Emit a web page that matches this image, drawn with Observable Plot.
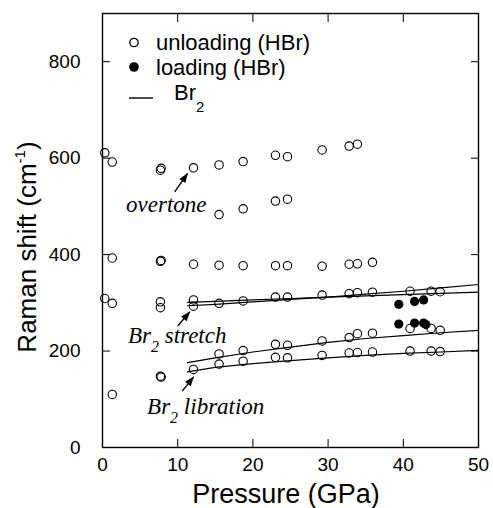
<!DOCTYPE html>
<html>
<head>
<meta charset="utf-8">
<script src="https://cdn.jsdelivr.net/npm/d3@7"></script>
<script src="https://cdn.jsdelivr.net/npm/@observablehq/plot@0.6"></script>
<style>
  body { margin: 0; background: #fff; }
  svg { display: block; }
</style>
</head>
<body>
<div id="chart"></div>
<script>
// Unloading run on HBr (open circles): pressure in GPa, Raman shift in cm-1
const unloadPressure = [
  0.3, 1.3, 7.7, 7.8, 12.1, 15.5, 18.7, 23.0, 24.6, 29.2, 32.8, 33.9,
  15.5, 18.7, 23.0, 24.6,
  1.3, 7.7, 7.8, 12.1, 15.5, 18.7, 23.0, 24.6, 29.2, 32.8, 33.9, 35.9,
  0.3, 1.3, 7.7, 7.7, 12.1, 12.1, 15.5, 18.7, 23.0, 24.6, 29.2, 32.8, 33.9, 35.9, 40.9, 43.7, 44.9,
  15.5, 18.7, 23.0, 24.6, 29.2, 32.8, 33.9, 35.9, 40.9, 43.7, 44.9,
  12.1, 15.5, 18.7, 23.0, 24.6, 29.2, 32.8, 33.9, 35.9, 40.9, 43.7, 44.9,
  7.7, 7.8, 1.3
];
const unloadShift = [
  611, 592, 575, 579, 580, 586, 593, 606, 603, 617, 625, 629,
  483, 495, 511, 515,
  393, 386, 388, 380, 378, 377, 377, 377, 376, 380, 381, 384,
  309, 299, 302, 290, 306, 293, 299, 304, 312, 312, 316, 319, 321, 322, 324, 324, 323,
  194, 201, 214, 212, 221, 228, 236, 237, 247, 247, 243,
  162, 173, 179, 187, 186, 191, 196, 197, 198, 200, 200, 199,
  148, 146, 110
];

// Loading run on HBr (filled circles)
const loadPressure = [39.4, 41.5, 42.7, 39.4, 41.5, 42.7, 43.0];
const loadShift = [297, 303, 306, 256, 258, 258, 255];

// Pure Br2 curves (solid lines), sampled on a shared pressure grid
const br2Pressure = [11.3, 15, 20, 25, 30, 35, 40, 45, 50];
const br2StretchUpper = [294, 297, 302, 307, 312, 318, 324, 331, 338];
const br2StretchLower = [301, 303, 306, 309, 312, 314.5, 317, 319.5, 322];
const br2LibrationUpper = [176, 186, 198, 208, 218, 226, 232, 238, 243];
const br2LibrationLower = [157, 166, 174, 180, 186, 191, 195, 198, 201.5];

// Tick values
const xTicks = [0, 10, 20, 30, 40, 50];
const xInnerTicks = [10, 20, 30, 40];
const yTicks = [0, 200, 400, 600, 800];
const yInnerTicks = [200, 400, 600, 800];

// Tables built from the arrays above
const unloading = unloadPressure.map((p, i) => ({p, s: unloadShift[i]}));
const loading = loadPressure.map((p, i) => ({p, s: loadShift[i]}));
const curves = [
  ["stretch-upper", br2StretchUpper],
  ["stretch-lower", br2StretchLower],
  ["libration-upper", br2LibrationUpper],
  ["libration-lower", br2LibrationLower]
].flatMap(([name, vals]) => vals.map((s, i) => ({name, p: br2Pressure[i], s})));

// Annotation arrows (tail -> head), in pressure / shift units
const arrows = [
  {p1: 9.6, s1: 530, p2: 11.3, s2: 568},
  {p1: 10.0, s1: 252, p2: 11.6, s2: 281},
  {p1: 10.6, s1: 117, p2: 12.1, s2: 146}
];

const sans = "'Liberation Sans', Arial, Helvetica, sans-serif";
const serif = "'Liberation Serif', 'Times New Roman', serif";

const chart = Plot.plot({
  width: 493,
  height: 508,
  marginLeft: 102,
  marginRight: 15,
  marginTop: 13,
  marginBottom: 61,
  style: {fontFamily: sans, fontSize: "20px", color: "#000", background: "#fff"},
  x: {domain: [0, 50]},
  y: {domain: [0, 900]},
  marks: [
    Plot.axisX({anchor: "bottom", ticks: xTicks, tickSize: -8, tickPadding: 18, label: null, fontSize: 19}),
    Plot.axisX({anchor: "top", ticks: xInnerTicks, tickSize: -8, tickFormat: () => "", label: null}),
    Plot.axisY({anchor: "left", ticks: yTicks, tickSize: -8, tickPadding: 30, label: null, fontSize: 19}),
    Plot.axisY({anchor: "right", ticks: yInnerTicks, tickSize: -8, tickFormat: () => "", label: null}),
    Plot.line(curves, {x: "p", y: "s", z: "name", stroke: "#000", strokeWidth: 1.2}),
    Plot.dot(unloading, {x: "p", y: "s", r: 4.2, stroke: "#000", strokeWidth: 1.1, fill: "none"}),
    Plot.dot(loading, {x: "p", y: "s", r: 4.6, fill: "#000", stroke: "none"}),
    Plot.link(arrows, {x1: "p1", y1: "s1", x2: "p2", y2: "s2", stroke: "#000", strokeWidth: 1.4}),
    Plot.frame({stroke: "#000", strokeWidth: 1.4})
  ]
});

document.getElementById("chart").append(chart);

const svg = d3.select(chart);
const sx = chart.scale("x"), sy = chart.scale("y");

// Filled arrowheads on the annotation links
const defs = svg.append("defs");
defs.append("marker")
  .attr("id", "arrowhead")
  .attr("viewBox", "-10 -5 12 10")
  .attr("refX", 0).attr("refY", 0)
  .attr("markerWidth", 12).attr("markerHeight", 10)
  .attr("markerUnits", "userSpaceOnUse")
  .attr("orient", "auto")
  .append("path")
  .attr("d", "M1,0L-9,-3.6L-9,3.6Z")
  .attr("fill", "#000");
svg.selectAll("g[aria-label='link'] path").attr("marker-end", "url(#arrowhead)");

// Axis titles
svg.append("text")
  .attr("x", 286).attr("y", 503)
  .attr("text-anchor", "middle")
  .attr("font-family", sans).attr("font-size", 27)
  .attr("fill", "#000")
  .text("Pressure (GPa)");

const yTitle = svg.append("text")
  .attr("transform", "translate(36,247) rotate(-90)")
  .attr("text-anchor", "middle")
  .attr("font-family", sans).attr("font-size", 26)
  .attr("fill", "#000");
yTitle.append("tspan").text("Raman shift (cm");
yTitle.append("tspan").attr("font-size", 15).attr("dy", -11).text("-1");
yTitle.append("tspan").attr("dy", 11).text(")");

// Legend in the upper-left corner of the frame
const legend = svg.append("g")
  .attr("font-family", sans).attr("font-size", 22)
  .attr("text-anchor", "start").attr("fill", "#000");
legend.append("circle").attr("cx", 134).attr("cy", 42.5).attr("r", 4.2)
  .attr("fill", "none").attr("stroke", "#000").attr("stroke-width", 1.3);
legend.append("text").attr("x", 156).attr("y", 50).text("unloading (HBr)");
legend.append("circle").attr("cx", 134).attr("cy", 67).attr("r", 4.8).attr("fill", "#000");
legend.append("text").attr("x", 156).attr("y", 75).text("loading (HBr)");
legend.append("line").attr("x1", 129).attr("x2", 153).attr("y1", 98).attr("y2", 98)
  .attr("stroke", "#000").attr("stroke-width", 1.4);
const br2 = legend.append("text").attr("x", 174).attr("y", 100);
br2.append("tspan").text("Br");
br2.append("tspan").attr("font-size", 15).attr("dy", 12).text("2");

// Italic annotations next to the arrows, placed in pressure / shift units
const notes = [
  {p: 3.2, s: 487, parts: [["overtone", 0]]},
  {p: 3.45, s: 215, parts: [["Br", 0], ["2", 1], [" stretch", 0]]},
  {p: 6.0, s: 69, parts: [["Br", 0], ["2", 1], [" libration", 0]]}
];
for (const n of notes) {
  const t = svg.append("text")
    .attr("x", sx.apply(n.p)).attr("y", sy.apply(n.s))
    .attr("text-anchor", "start")
    .attr("font-family", serif).attr("font-style", "italic")
    .attr("font-size", 23).attr("fill", "#000");
  let shifted = false;
  for (const [str, sub] of n.parts) {
    const ts = t.append("tspan").text(str);
    if (sub) { ts.attr("font-size", 16).attr("dy", 9); shifted = true; }
    else if (shifted) { ts.attr("dy", -9); shifted = false; }
  }
}
</script>
</body>
</html>
